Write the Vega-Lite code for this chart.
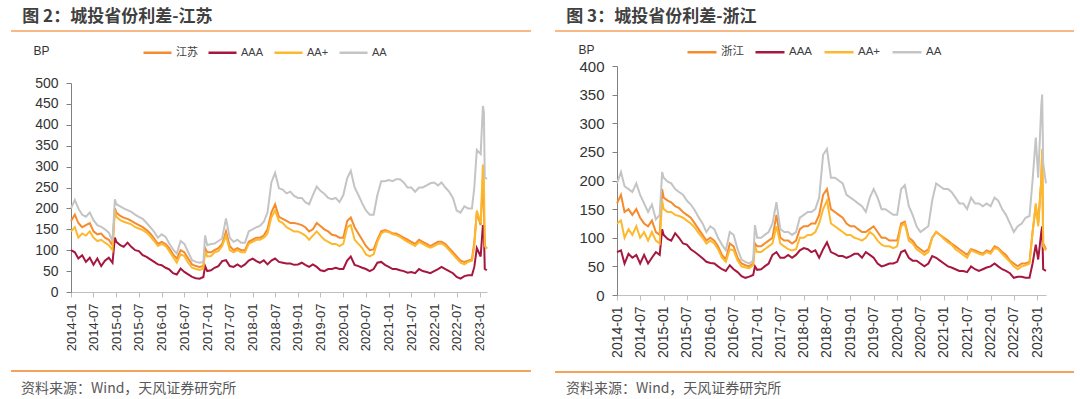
{
  "$schema": "https://vega.github.io/schema/vega-lite/v6.json",
  "padding": {"left": 10, "top": 8, "right": 0, "bottom": 0},
  "background": "white",
  "spacing": 22,
  "resolve": {"scale": {"color": "independent", "x": "independent", "y": "independent"}, "legend": {"color": "independent"}},
  "config": {"view": {"stroke": null}, "font": "Liberation Sans"},
  "datasets": {
    "js": [
      {"date":"2014-01-01","江苏":170,"AAA":100,"AA+":145,"AA":200},
      {"date":"2014-02-01","江苏":185,"AAA":95,"AA+":155,"AA":220},
      {"date":"2014-03-01","江苏":165,"AAA":80,"AA+":130,"AA":200},
      {"date":"2014-04-01","江苏":155,"AAA":88,"AA+":140,"AA":185},
      {"date":"2014-05-01","江苏":160,"AAA":72,"AA+":135,"AA":180},
      {"date":"2014-06-01","江苏":165,"AAA":82,"AA+":145,"AA":190},
      {"date":"2014-07-01","江苏":145,"AAA":65,"AA+":130,"AA":172},
      {"date":"2014-08-01","江苏":138,"AAA":80,"AA+":122,"AA":160},
      {"date":"2014-09-01","江苏":140,"AAA":62,"AA+":125,"AA":156},
      {"date":"2014-10-01","江苏":130,"AAA":75,"AA+":118,"AA":150},
      {"date":"2014-11-01","江苏":125,"AAA":82,"AA+":112,"AA":142},
      {"date":"2014-12-01","江苏":112,"AAA":70,"AA+":100,"AA":122},
      {"date":"2014-12-20","江苏":200,"AAA":130,"AA+":195,"AA":222},
      {"date":"2015-01-01","江苏":190,"AAA":120,"AA+":180,"AA":210},
      {"date":"2015-02-01","江苏":182,"AAA":112,"AA+":172,"AA":205},
      {"date":"2015-03-01","江苏":178,"AAA":108,"AA+":168,"AA":200},
      {"date":"2015-04-01","江苏":175,"AAA":118,"AA+":165,"AA":196},
      {"date":"2015-05-01","江苏":170,"AAA":108,"AA+":162,"AA":192},
      {"date":"2015-06-01","江苏":165,"AAA":100,"AA+":155,"AA":185},
      {"date":"2015-07-01","江苏":160,"AAA":98,"AA+":152,"AA":180},
      {"date":"2015-08-01","江苏":155,"AAA":88,"AA+":148,"AA":175},
      {"date":"2015-09-01","江苏":148,"AAA":84,"AA+":142,"AA":165},
      {"date":"2015-10-01","江苏":140,"AAA":78,"AA+":133,"AA":155},
      {"date":"2015-11-01","江苏":128,"AAA":72,"AA+":122,"AA":144},
      {"date":"2015-12-01","江苏":115,"AAA":66,"AA+":110,"AA":130},
      {"date":"2016-01-01","江苏":120,"AAA":64,"AA+":115,"AA":138},
      {"date":"2016-02-01","江苏":115,"AAA":58,"AA+":110,"AA":132},
      {"date":"2016-03-01","江苏":105,"AAA":54,"AA+":98,"AA":116},
      {"date":"2016-04-01","江苏":90,"AAA":45,"AA+":84,"AA":102},
      {"date":"2016-05-01","江苏":80,"AAA":42,"AA+":70,"AA":92},
      {"date":"2016-06-01","江苏":100,"AAA":56,"AA+":90,"AA":122},
      {"date":"2016-07-01","江苏":95,"AAA":48,"AA+":86,"AA":115},
      {"date":"2016-08-01","江苏":80,"AAA":42,"AA+":70,"AA":95},
      {"date":"2016-09-01","江苏":66,"AAA":36,"AA+":58,"AA":76},
      {"date":"2016-10-01","江苏":62,"AAA":33,"AA+":55,"AA":72},
      {"date":"2016-11-01","江苏":60,"AAA":32,"AA+":53,"AA":70},
      {"date":"2016-12-01","江苏":62,"AAA":36,"AA+":56,"AA":72},
      {"date":"2016-12-15","江苏":105,"AAA":62,"AA+":98,"AA":135},
      {"date":"2017-01-01","江苏":95,"AAA":50,"AA+":85,"AA":112},
      {"date":"2017-02-01","江苏":95,"AAA":52,"AA+":86,"AA":115},
      {"date":"2017-03-01","江苏":100,"AAA":58,"AA+":95,"AA":116},
      {"date":"2017-04-01","江苏":105,"AAA":62,"AA+":98,"AA":122},
      {"date":"2017-05-01","江苏":115,"AAA":74,"AA+":110,"AA":128},
      {"date":"2017-06-01","江苏":145,"AAA":76,"AA+":135,"AA":176},
      {"date":"2017-07-01","江苏":110,"AAA":62,"AA+":100,"AA":130},
      {"date":"2017-08-01","江苏":100,"AAA":60,"AA+":95,"AA":120},
      {"date":"2017-09-01","江苏":105,"AAA":66,"AA+":100,"AA":125},
      {"date":"2017-10-01","江苏":100,"AAA":60,"AA+":95,"AA":118},
      {"date":"2017-11-01","江苏":100,"AAA":66,"AA+":95,"AA":118},
      {"date":"2017-12-01","江苏":120,"AAA":75,"AA+":115,"AA":145},
      {"date":"2018-01-01","江苏":125,"AAA":80,"AA+":120,"AA":150},
      {"date":"2018-02-01","江苏":130,"AAA":74,"AA+":125,"AA":155},
      {"date":"2018-03-01","江苏":130,"AAA":70,"AA+":125,"AA":158},
      {"date":"2018-04-01","江苏":135,"AAA":76,"AA+":130,"AA":168},
      {"date":"2018-05-01","江苏":150,"AAA":66,"AA+":140,"AA":190},
      {"date":"2018-06-01","江苏":190,"AAA":75,"AA+":178,"AA":262},
      {"date":"2018-07-01","江苏":210,"AAA":80,"AA+":195,"AA":285},
      {"date":"2018-08-01","江苏":180,"AAA":72,"AA+":170,"AA":248},
      {"date":"2018-09-01","江苏":175,"AAA":70,"AA+":165,"AA":245},
      {"date":"2018-10-01","江苏":170,"AAA":68,"AA+":155,"AA":236},
      {"date":"2018-11-01","江苏":165,"AAA":68,"AA+":150,"AA":240},
      {"date":"2018-12-01","江苏":165,"AAA":65,"AA+":145,"AA":230},
      {"date":"2019-01-01","江苏":163,"AAA":66,"AA+":145,"AA":225},
      {"date":"2019-02-01","江苏":160,"AAA":70,"AA+":140,"AA":225},
      {"date":"2019-03-01","江苏":155,"AAA":65,"AA+":135,"AA":215},
      {"date":"2019-04-01","江苏":145,"AAA":60,"AA+":125,"AA":210},
      {"date":"2019-05-01","江苏":150,"AAA":66,"AA+":135,"AA":232},
      {"date":"2019-06-01","江苏":165,"AAA":60,"AA+":145,"AA":252},
      {"date":"2019-07-01","江苏":158,"AAA":52,"AA+":135,"AA":242},
      {"date":"2019-08-01","江苏":150,"AAA":50,"AA+":125,"AA":235},
      {"date":"2019-09-01","江苏":145,"AAA":55,"AA+":120,"AA":225},
      {"date":"2019-10-01","江苏":137,"AAA":55,"AA+":115,"AA":222},
      {"date":"2019-11-01","江苏":135,"AAA":58,"AA+":115,"AA":225},
      {"date":"2019-12-01","江苏":130,"AAA":55,"AA+":110,"AA":215},
      {"date":"2020-01-01","江苏":130,"AAA":55,"AA+":115,"AA":232},
      {"date":"2020-02-01","江苏":170,"AAA":75,"AA+":155,"AA":272},
      {"date":"2020-03-01","江苏":178,"AAA":85,"AA+":160,"AA":290},
      {"date":"2020-04-01","江苏":155,"AAA":65,"AA+":125,"AA":250},
      {"date":"2020-05-01","江苏":140,"AAA":62,"AA+":115,"AA":232},
      {"date":"2020-06-01","江苏":125,"AAA":58,"AA+":105,"AA":212},
      {"date":"2020-07-01","江苏":110,"AAA":55,"AA+":90,"AA":195},
      {"date":"2020-08-01","江苏":100,"AAA":50,"AA+":85,"AA":185},
      {"date":"2020-09-01","江苏":102,"AAA":55,"AA+":90,"AA":185},
      {"date":"2020-10-01","江苏":125,"AAA":70,"AA+":120,"AA":232},
      {"date":"2020-11-01","江苏":145,"AAA":72,"AA+":140,"AA":265},
      {"date":"2020-12-01","江苏":148,"AAA":65,"AA+":145,"AA":265},
      {"date":"2021-01-01","江苏":145,"AAA":60,"AA+":143,"AA":268},
      {"date":"2021-02-01","江苏":140,"AAA":55,"AA+":138,"AA":265},
      {"date":"2021-03-01","江苏":140,"AAA":55,"AA+":136,"AA":270},
      {"date":"2021-04-01","江苏":135,"AAA":52,"AA+":132,"AA":270},
      {"date":"2021-05-01","江苏":130,"AAA":50,"AA+":126,"AA":262},
      {"date":"2021-06-01","江苏":125,"AAA":46,"AA+":120,"AA":250},
      {"date":"2021-07-01","江苏":120,"AAA":48,"AA+":115,"AA":250},
      {"date":"2021-08-01","江苏":115,"AAA":45,"AA+":110,"AA":240},
      {"date":"2021-09-01","江苏":125,"AAA":55,"AA+":120,"AA":250},
      {"date":"2021-10-01","江苏":120,"AAA":50,"AA+":115,"AA":250},
      {"date":"2021-11-01","江苏":115,"AAA":48,"AA+":110,"AA":255},
      {"date":"2021-12-01","江苏":110,"AAA":45,"AA+":106,"AA":260},
      {"date":"2022-01-01","江苏":115,"AAA":50,"AA+":110,"AA":262},
      {"date":"2022-02-01","江苏":120,"AAA":55,"AA+":115,"AA":255},
      {"date":"2022-03-01","江苏":120,"AAA":60,"AA+":116,"AA":262},
      {"date":"2022-04-01","江苏":115,"AAA":55,"AA+":110,"AA":250},
      {"date":"2022-05-01","江苏":105,"AAA":50,"AA+":100,"AA":240},
      {"date":"2022-06-01","江苏":95,"AAA":45,"AA+":90,"AA":225},
      {"date":"2022-07-01","江苏":85,"AAA":36,"AA+":80,"AA":195},
      {"date":"2022-08-01","江苏":75,"AAA":32,"AA+":70,"AA":190},
      {"date":"2022-09-01","江苏":72,"AAA":38,"AA+":66,"AA":205},
      {"date":"2022-10-01","江苏":75,"AAA":40,"AA+":72,"AA":200},
      {"date":"2022-11-01","江苏":78,"AAA":40,"AA+":75,"AA":200},
      {"date":"2022-11-20","江苏":120,"AAA":60,"AA+":110,"AA":250},
      {"date":"2022-12-10","江苏":190,"AAA":105,"AA+":195,"AA":340},
      {"date":"2023-01-10","江苏":160,"AAA":85,"AA+":165,"AA":330},
      {"date":"2023-01-28","江苏":270,"AAA":160,"AA+":305,"AA":445},
      {"date":"2023-02-05","江苏":200,"AAA":150,"AA+":270,"AA":430},
      {"date":"2023-02-12","江苏":110,"AAA":55,"AA+":110,"AA":275},
      {"date":"2023-03-01","江苏":105,"AAA":52,"AA+":103,"AA":270}
    ],
    "zj": [
      {"date":"2014-01-01","浙江":160,"AAA":75,"AA+":125,"AA":195},
      {"date":"2014-02-01","浙江":175,"AAA":78,"AA+":130,"AA":215},
      {"date":"2014-03-01","浙江":145,"AAA":55,"AA+":100,"AA":190},
      {"date":"2014-04-01","浙江":150,"AAA":72,"AA+":115,"AA":185},
      {"date":"2014-05-01","浙江":140,"AAA":65,"AA+":105,"AA":180},
      {"date":"2014-06-01","浙江":150,"AAA":70,"AA+":120,"AA":195},
      {"date":"2014-07-01","浙江":135,"AAA":55,"AA+":100,"AA":175},
      {"date":"2014-08-01","浙江":125,"AAA":70,"AA+":110,"AA":160},
      {"date":"2014-09-01","浙江":120,"AAA":55,"AA+":95,"AA":145},
      {"date":"2014-10-01","浙江":130,"AAA":65,"AA+":110,"AA":158},
      {"date":"2014-11-01","浙江":110,"AAA":75,"AA+":95,"AA":132},
      {"date":"2014-12-01","浙江":105,"AAA":70,"AA+":90,"AA":140},
      {"date":"2014-12-20","浙江":185,"AAA":115,"AA+":165,"AA":215},
      {"date":"2015-01-01","浙江":170,"AAA":105,"AA+":150,"AA":205},
      {"date":"2015-02-01","浙江":165,"AAA":98,"AA+":145,"AA":198},
      {"date":"2015-03-01","浙江":162,"AAA":95,"AA+":145,"AA":195},
      {"date":"2015-04-01","浙江":155,"AAA":108,"AA+":140,"AA":185},
      {"date":"2015-05-01","浙江":152,"AAA":100,"AA+":138,"AA":180},
      {"date":"2015-06-01","浙江":145,"AAA":90,"AA+":135,"AA":175},
      {"date":"2015-07-01","浙江":140,"AAA":88,"AA+":130,"AA":165},
      {"date":"2015-08-01","浙江":135,"AAA":80,"AA+":125,"AA":158},
      {"date":"2015-09-01","浙江":125,"AAA":75,"AA+":118,"AA":148},
      {"date":"2015-10-01","浙江":115,"AAA":70,"AA+":108,"AA":136},
      {"date":"2015-11-01","浙江":105,"AAA":64,"AA+":100,"AA":125},
      {"date":"2015-12-01","浙江":95,"AAA":58,"AA+":90,"AA":110},
      {"date":"2016-01-01","浙江":100,"AAA":56,"AA+":95,"AA":120},
      {"date":"2016-02-01","浙江":95,"AAA":55,"AA+":90,"AA":115},
      {"date":"2016-03-01","浙江":85,"AAA":50,"AA+":80,"AA":100},
      {"date":"2016-04-01","浙江":70,"AAA":45,"AA+":65,"AA":88},
      {"date":"2016-05-01","浙江":62,"AAA":42,"AA+":58,"AA":78},
      {"date":"2016-06-01","浙江":90,"AAA":52,"AA+":80,"AA":110},
      {"date":"2016-07-01","浙江":85,"AAA":45,"AA+":78,"AA":105},
      {"date":"2016-08-01","浙江":65,"AAA":40,"AA+":60,"AA":80},
      {"date":"2016-09-01","浙江":55,"AAA":33,"AA+":50,"AA":62},
      {"date":"2016-10-01","浙江":52,"AAA":30,"AA+":48,"AA":58},
      {"date":"2016-11-01","浙江":50,"AAA":32,"AA+":47,"AA":55},
      {"date":"2016-12-01","浙江":55,"AAA":35,"AA+":52,"AA":60},
      {"date":"2016-12-15","浙江":90,"AAA":50,"AA+":85,"AA":122},
      {"date":"2017-01-01","浙江":85,"AAA":44,"AA+":75,"AA":100},
      {"date":"2017-02-01","浙江":85,"AAA":45,"AA+":75,"AA":100},
      {"date":"2017-03-01","浙江":90,"AAA":50,"AA+":80,"AA":105},
      {"date":"2017-04-01","浙江":95,"AAA":55,"AA+":85,"AA":110},
      {"date":"2017-05-01","浙江":100,"AAA":70,"AA+":90,"AA":125},
      {"date":"2017-06-01","浙江":140,"AAA":75,"AA+":120,"AA":162},
      {"date":"2017-07-01","浙江":100,"AAA":65,"AA+":90,"AA":115},
      {"date":"2017-08-01","浙江":95,"AAA":65,"AA+":85,"AA":110},
      {"date":"2017-09-01","浙江":95,"AAA":70,"AA+":80,"AA":110},
      {"date":"2017-10-01","浙江":90,"AAA":65,"AA+":78,"AA":105},
      {"date":"2017-11-01","浙江":95,"AAA":70,"AA+":80,"AA":110},
      {"date":"2017-12-01","浙江":115,"AAA":78,"AA+":100,"AA":135},
      {"date":"2018-01-01","浙江":120,"AAA":82,"AA+":100,"AA":140},
      {"date":"2018-02-01","浙江":120,"AAA":80,"AA+":105,"AA":145},
      {"date":"2018-03-01","浙江":125,"AAA":75,"AA+":105,"AA":145},
      {"date":"2018-04-01","浙江":125,"AAA":78,"AA+":110,"AA":150},
      {"date":"2018-05-01","浙江":140,"AAA":65,"AA+":125,"AA":170},
      {"date":"2018-06-01","浙江":175,"AAA":80,"AA+":150,"AA":245},
      {"date":"2018-07-01","浙江":185,"AAA":92,"AA+":165,"AA":255},
      {"date":"2018-08-01","浙江":150,"AAA":75,"AA+":125,"AA":205},
      {"date":"2018-09-01","浙江":145,"AAA":72,"AA+":120,"AA":205},
      {"date":"2018-10-01","浙江":140,"AAA":68,"AA+":115,"AA":200},
      {"date":"2018-11-01","浙江":135,"AAA":68,"AA+":110,"AA":195},
      {"date":"2018-12-01","浙江":125,"AAA":65,"AA+":105,"AA":175},
      {"date":"2019-01-01","浙江":120,"AAA":68,"AA+":105,"AA":170},
      {"date":"2019-02-01","浙江":120,"AAA":72,"AA+":100,"AA":165},
      {"date":"2019-03-01","浙江":115,"AAA":72,"AA+":98,"AA":160},
      {"date":"2019-04-01","浙江":110,"AAA":65,"AA+":95,"AA":155},
      {"date":"2019-05-01","浙江":110,"AAA":75,"AA+":100,"AA":145},
      {"date":"2019-06-01","浙江":115,"AAA":70,"AA+":110,"AA":170},
      {"date":"2019-07-01","浙江":120,"AAA":65,"AA+":105,"AA":185},
      {"date":"2019-08-01","浙江":110,"AAA":55,"AA+":95,"AA":170},
      {"date":"2019-09-01","浙江":100,"AAA":50,"AA+":88,"AA":150},
      {"date":"2019-10-01","浙江":100,"AAA":52,"AA+":85,"AA":150},
      {"date":"2019-11-01","浙江":95,"AAA":55,"AA+":85,"AA":145},
      {"date":"2019-12-01","浙江":95,"AAA":55,"AA+":82,"AA":140},
      {"date":"2020-01-01","浙江":95,"AAA":58,"AA+":85,"AA":140},
      {"date":"2020-02-01","浙江":125,"AAA":75,"AA+":120,"AA":185},
      {"date":"2020-03-01","浙江":128,"AAA":78,"AA+":125,"AA":192},
      {"date":"2020-04-01","浙江":100,"AAA":65,"AA+":95,"AA":155},
      {"date":"2020-05-01","浙江":95,"AAA":60,"AA+":90,"AA":140},
      {"date":"2020-06-01","浙江":85,"AAA":60,"AA+":80,"AA":120},
      {"date":"2020-07-01","浙江":80,"AAA":55,"AA+":75,"AA":110},
      {"date":"2020-08-01","浙江":75,"AAA":50,"AA+":70,"AA":115},
      {"date":"2020-09-01","浙江":80,"AAA":55,"AA+":75,"AA":120},
      {"date":"2020-10-01","浙江":100,"AAA":68,"AA+":100,"AA":165},
      {"date":"2020-11-01","浙江":110,"AAA":65,"AA+":110,"AA":195},
      {"date":"2020-12-01","浙江":105,"AAA":60,"AA+":105,"AA":190},
      {"date":"2021-01-01","浙江":100,"AAA":55,"AA+":98,"AA":185},
      {"date":"2021-02-01","浙江":95,"AAA":50,"AA+":92,"AA":185},
      {"date":"2021-03-01","浙江":90,"AAA":48,"AA+":88,"AA":180},
      {"date":"2021-04-01","浙江":85,"AAA":45,"AA+":80,"AA":170},
      {"date":"2021-05-01","浙江":80,"AAA":42,"AA+":75,"AA":160},
      {"date":"2021-06-01","浙江":75,"AAA":42,"AA+":70,"AA":160},
      {"date":"2021-07-01","浙江":70,"AAA":40,"AA+":65,"AA":150},
      {"date":"2021-08-01","浙江":80,"AAA":50,"AA+":78,"AA":170},
      {"date":"2021-09-01","浙江":78,"AAA":45,"AA+":75,"AA":160},
      {"date":"2021-10-01","浙江":75,"AAA":42,"AA+":72,"AA":160},
      {"date":"2021-11-01","浙江":72,"AAA":45,"AA+":70,"AA":155},
      {"date":"2021-12-01","浙江":78,"AAA":48,"AA+":75,"AA":160},
      {"date":"2022-01-01","浙江":75,"AAA":50,"AA+":72,"AA":155},
      {"date":"2022-02-01","浙江":85,"AAA":55,"AA+":82,"AA":170},
      {"date":"2022-03-01","浙江":82,"AAA":50,"AA+":80,"AA":165},
      {"date":"2022-04-01","浙江":75,"AAA":45,"AA+":72,"AA":150},
      {"date":"2022-05-01","浙江":70,"AAA":42,"AA+":65,"AA":140},
      {"date":"2022-06-01","浙江":60,"AAA":38,"AA+":58,"AA":125},
      {"date":"2022-07-01","浙江":55,"AAA":30,"AA+":50,"AA":110},
      {"date":"2022-08-01","浙江":50,"AAA":32,"AA+":45,"AA":120},
      {"date":"2022-09-01","浙江":55,"AAA":32,"AA+":50,"AA":125},
      {"date":"2022-10-01","浙江":55,"AAA":30,"AA+":52,"AA":135},
      {"date":"2022-11-01","浙江":58,"AAA":30,"AA+":55,"AA":138},
      {"date":"2022-11-25","浙江":110,"AAA":55,"AA+":110,"AA":200},
      {"date":"2022-12-20","浙江":155,"AAA":88,"AA+":160,"AA":275},
      {"date":"2023-01-08","浙江":125,"AAA":62,"AA+":120,"AA":205},
      {"date":"2023-02-01","浙江":200,"AAA":110,"AA+":200,"AA":330},
      {"date":"2023-02-08","浙江":250,"AAA":120,"AA+":255,"AA":350},
      {"date":"2023-02-16","浙江":90,"AAA":45,"AA+":85,"AA":230},
      {"date":"2023-03-10","浙江":80,"AAA":42,"AA+":78,"AA":195}
    ]
  },
  "hconcat": [
    {
      "spacing": 5,
      "resolve": {"scale": {"color": "independent", "x": "independent", "y": "independent"}, "legend": {"color": "independent"}},
      "vconcat": [
        {
          "width": 460, "height": 2,
          "data": {"values": [{"x0": 0, "x1": 1}]},
          "mark": {"type": "rule", "color": "#F5A25D", "strokeWidth": 1.5},
          "encoding": {
            "x": {"field": "x0", "type": "quantitative", "scale": {"domain": [0, 1], "range": [-60, 460], "nice": false, "zero": false}, "axis": null},
            "x2": {"field": "x1"}
          },
          "title": {"text": "图 2：城投省份利差-江苏", "anchor": "start", "dx": 12, "fontSize": 17, "font": "Noto Sans CJK SC", "fontWeight": "bold", "color": "#404040", "offset": 4}
        },
        {
          "width": 416, "height": 209,
          "data": {"name": "js"},
          "transform": [{"fold": ["江苏", "AAA", "AA+", "AA"], "as": ["series", "value"]}],
          "mark": {"type": "line", "strokeWidth": 2},
          "encoding": {
            "x": {"field": "date", "type": "temporal",
                  "scale": {"domain": [{"year": 2014, "month": 1, "date": 1}, {"year": 2023, "month": 3, "date": 2}]},
                  "axis": {"title": null, "format": "%Y-%m", "tickCount": {"interval": "month", "step": 6}, "labelAngle": -90, "labelFontSize": 13, "labelColor": "#333333", "labelPadding": 6, "tickSize": 5, "domainColor": "#BFBFBF", "tickColor": "#BFBFBF", "grid": false, "labelOverlap": false, "labelFlush": false}},
            "y": {"field": "value", "type": "quantitative",
                  "scale": {"domain": [0, 500], "nice": false},
                  "axis": {"title": "BP", "titleAngle": 0, "titleAlign": "left", "titleBaseline": "middle", "titleX": -38, "titleY": -33, "titleFontSize": 12, "titleFontWeight": "normal", "titleColor": "#333333", "values": [0, 50, 100, 150, 200, 250, 300, 350, 400, 450, 500], "grid": false, "domainColor": "#808080", "tickColor": "#808080", "tickSize": 5, "labelPadding": 8, "labelFontSize": 14, "labelColor": "#333333"}},
            "color": {"field": "series", "type": "nominal",
                      "scale": {"domain": ["江苏", "AAA", "AA+", "AA"], "range": ["#F58A2E", "#A6173F", "#FDB92E", "#C4C4C4"]},
                      "legend": {"title": null, "orient": "none", "legendX": 71, "legendY": -46, "direction": "horizontal", "symbolType": "stroke", "symbolSize": 784, "symbolStrokeWidth": 2.5, "labelFontSize": 11, "labelColor": "#404040", "labelFont": "Liberation Sans, Noto Sans CJK SC", "labelOffset": 3, "columnPadding": 5}}
          }
        },
        {
          "width": 460, "height": 30,
          "data": {"values": [{"x0": 0, "x1": 1}]},
          "mark": {"type": "rule", "color": "#F5A25D", "strokeWidth": 2},
          "encoding": {
            "x": {"field": "x0", "type": "quantitative", "scale": {"domain": [0, 1], "range": [-60, 460], "nice": false, "zero": false}, "axis": null},
            "x2": {"field": "x1"}
          },
          "title": {"text": "资料来源：Wind，天风证券研究所", "orient": "bottom", "anchor": "start", "dx": 11, "fontSize": 14, "font": "Noto Sans CJK SC", "fontWeight": "normal", "color": "#595959", "offset": -4}
        }
      ]
    },
    {
      "spacing": 4,
      "resolve": {"scale": {"color": "independent", "x": "independent", "y": "independent"}, "legend": {"color": "independent"}},
      "vconcat": [
        {
          "width": 457, "height": 2,
          "data": {"values": [{"x0": 0, "x1": 1}]},
          "mark": {"type": "rule", "color": "#F5A25D", "strokeWidth": 1.5},
          "encoding": {
            "x": {"field": "x0", "type": "quantitative", "scale": {"domain": [0, 1], "range": [-62, 457], "nice": false, "zero": false}, "axis": null},
            "x2": {"field": "x1"}
          },
          "title": {"text": "图 3：城投省份利差-浙江", "anchor": "start", "dx": 12, "fontSize": 17, "font": "Noto Sans CJK SC", "fontWeight": "bold", "color": "#404040", "offset": 4}
        },
        {
          "width": 429, "height": 229,
          "data": {"name": "zj"},
          "transform": [{"fold": ["浙江", "AAA", "AA+", "AA"], "as": ["series", "value"]}],
          "mark": {"type": "line", "strokeWidth": 2},
          "encoding": {
            "x": {"field": "date", "type": "temporal",
                  "scale": {"domain": [{"year": 2014, "month": 1, "date": 1}, {"year": 2023, "month": 3, "date": 10}]},
                  "axis": {"title": null, "format": "%Y-%m", "tickCount": {"interval": "month", "step": 6}, "labelAngle": -90, "labelFontSize": 14, "labelColor": "#333333", "labelPadding": 6, "tickSize": 5, "domainColor": "#BFBFBF", "tickColor": "#BFBFBF", "grid": false, "labelOverlap": false, "labelFlush": false}},
            "y": {"field": "value", "type": "quantitative",
                  "scale": {"domain": [0, 400], "nice": false},
                  "axis": {"title": "BP", "titleAngle": 0, "titleAlign": "left", "titleBaseline": "middle", "titleX": -39, "titleY": -17, "titleFontSize": 12, "titleFontWeight": "normal", "titleColor": "#333333", "values": [0, 50, 100, 150, 200, 250, 300, 350, 400], "grid": false, "domainColor": "#808080", "tickColor": "#808080", "tickSize": 5, "labelPadding": 8, "labelFontSize": 15, "labelColor": "#333333"}},
            "color": {"field": "series", "type": "nominal",
                      "scale": {"domain": ["浙江", "AAA", "AA+", "AA"], "range": ["#F58A2E", "#A6173F", "#FDB92E", "#C4C4C4"]},
                      "legend": {"title": null, "orient": "none", "legendX": 69, "legendY": -30, "direction": "horizontal", "symbolType": "stroke", "symbolSize": 841, "symbolStrokeWidth": 2.5, "labelFontSize": 11.5, "labelColor": "#404040", "labelFont": "Liberation Sans, Noto Sans CJK SC", "labelOffset": 3, "columnPadding": 6}}
          }
        },
        {
          "width": 457, "height": 20,
          "data": {"values": [{"x0": 0, "x1": 1}]},
          "mark": {"type": "rule", "color": "#F5A25D", "strokeWidth": 2},
          "encoding": {
            "x": {"field": "x0", "type": "quantitative", "scale": {"domain": [0, 1], "range": [-62, 457], "nice": false, "zero": false}, "axis": null},
            "x2": {"field": "x1"}
          },
          "title": {"text": "资料来源：Wind，天风证券研究所", "orient": "bottom", "anchor": "start", "dx": 12, "fontSize": 14, "font": "Noto Sans CJK SC", "fontWeight": "normal", "color": "#595959", "offset": 0}
        }
      ]
    }
  ]
}
